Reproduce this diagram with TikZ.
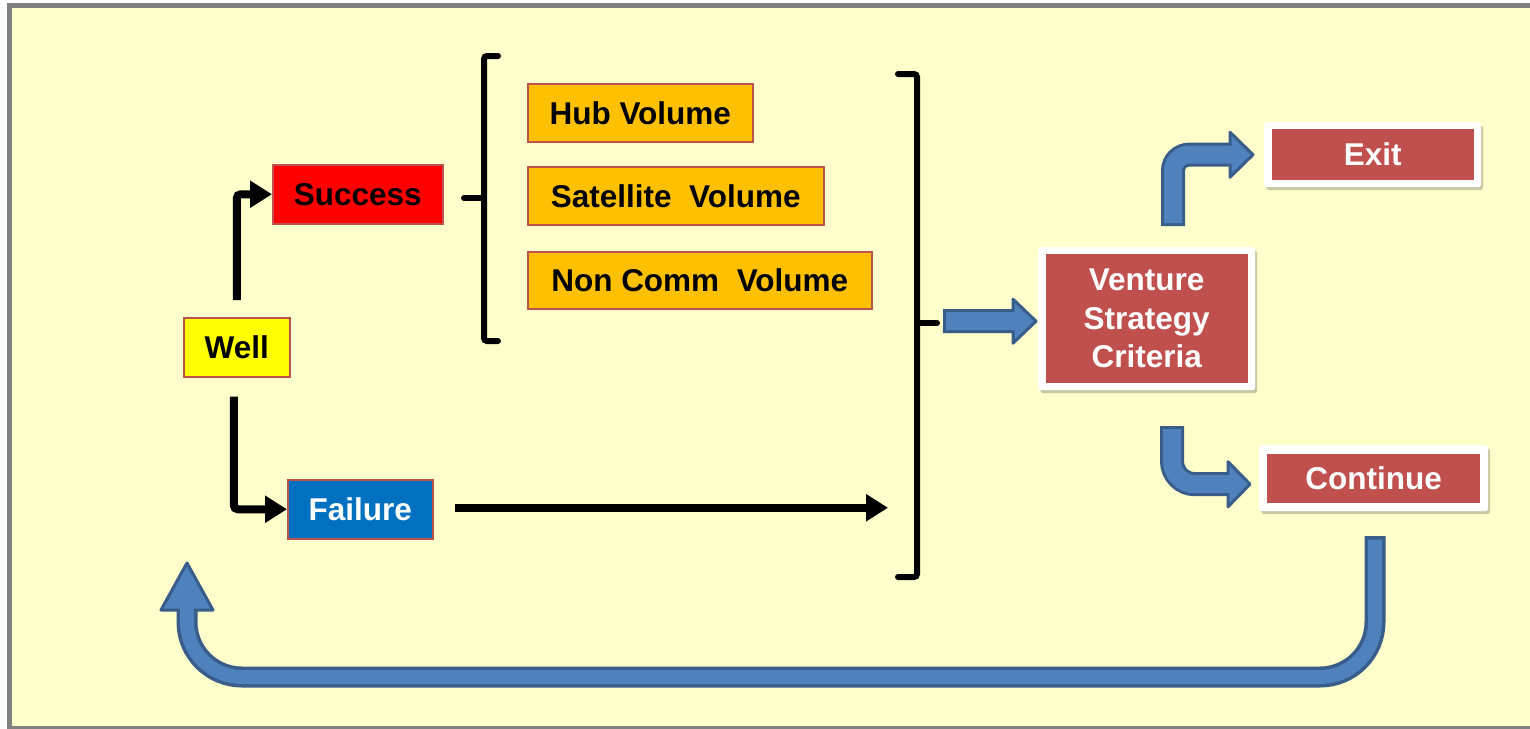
\documentclass[tikz,border=0pt]{standalone}
\usepackage{fontspec}
\setmainfont{Liberation Sans}
\usetikzlibrary{shadows,arrows.meta,calc}
\definecolor{bg}{HTML}{FFFFCC}
\definecolor{framegray}{HTML}{808080}
\definecolor{redbox}{HTML}{C0504D}
\definecolor{arrfill}{HTML}{4F81BD}
\definecolor{arrline}{HTML}{385D8A}
\definecolor{orangebox}{HTML}{FFC000}
\definecolor{bluebox}{HTML}{0070C0}
\definecolor{yellowbox}{HTML}{FFFF00}
\definecolor{redfill}{HTML}{FF0000}
\begin{document}
\begin{tikzpicture}[x=1pt,y=-1pt,
  lbl/.style={font=\fontsize{31.5}{38.5}\selectfont\bfseries},
  box/.style={lbl, draw=redbox, line width=1.5pt, inner sep=0pt, anchor=north west},
  whitebox/.style={fill=white, draw=none, rounded corners=3pt, inner sep=0pt, anchor=north west,
    drop shadow={shadow xshift=2pt, shadow yshift=-3pt, opacity=0.3, fill=black!70}},
  redinner/.style={lbl, fill=redbox, text=white, inner sep=0pt, align=center},
  conn/.style={draw=black, line width=8pt, rounded corners=4pt, -{Triangle[length=22pt,width=26pt]}},
  brk/.style={draw=black, line width=6pt, rounded corners=3pt, line cap=round},
  headshape/.style={fill=arrfill, draw=arrline, line width=3pt, line join=round}
]
\useasboundingbox (0,0) rectangle (1530,728);
\clip (0,0) rectangle (1530,728);
\fill[white] (0,0) rectangle (1530,728);
\draw[draw=framegray, line width=5pt, fill=bg] (9.5,5.5) rectangle (1545,728.5);

% left-side nodes
\node[box, fill=yellowbox, minimum width=106pt, minimum height=59pt] (well) at (183,317) {Well};
\node[box, fill=redfill, minimum width=170pt, minimum height=59pt] (success) at (272,164) {Success};
\node[box, fill=bluebox, text=white, minimum width=145pt, minimum height=59pt] (failure) at (287,479) {Failure};

\node[box, fill=orangebox, minimum width=225pt, minimum height=58pt] (hub) at (527,83) {Hub Volume};
\node[box, fill=orangebox, minimum width=296pt, minimum height=58pt] (sat) at (527,166) {Satellite\ \ Volume};
\node[box, fill=orangebox, minimum width=344pt, minimum height=57pt] (noncomm) at (527,251) {Non Comm\ \ Volume};

% right-side boxes
\node[whitebox, minimum width=217pt, minimum height=143pt] (vout) at (1038,247) {};
\node[redinner, minimum width=202pt, minimum height=129pt] (venture) at (vout.center) {Venture\\Strategy\\Criteria};
\node[whitebox, minimum width=217pt, minimum height=65pt] (eout) at (1264,122) {};
\node[redinner, minimum width=202pt, minimum height=51pt] (exit) at (eout.center) {Exit};
\node[whitebox, minimum width=229pt, minimum height=66pt] (cout) at (1259,445) {};
\node[redinner, minimum width=213pt, minimum height=49pt] (cont) at (cout.center) {Continue};

% black connectors
\draw[conn] ([yshift=17pt]well.north) |- (success.west);
\draw[conn] ([yshift=-19pt,xshift=-3pt]well.south) |- (failure.west);
\coordinate (rbx) at (888,0);
\draw[conn] ([xshift=21pt,yshift=1.5pt]failure.east) -- ([yshift=1.5pt]failure.east -| rbx);

% brackets
\draw[brk] (498,56) -- (484,56) -- (484,341) -- (498,341);
\draw[brk] (484,198) -- (464,198);
\draw[brk] (898,74) -- (917,74) -- (917,577) -- (898,577);
\draw[brk] (917,323) -- (937,323);

% straight block arrow bracket -> venture
\coordinate (sa) at (943,321);
\coordinate (sb) at ($(vout.west)+(-2,2.5)$);
\draw[arrline, line width=24pt] (sa) -- ($(sb)+(-22,0)$);
\filldraw[headshape] ($(sb)+(-23,-22)$) -- (sb) -- ($(sb)+(-23,22)$) -- cycle;
\draw[arrfill, line width=18pt] ($(sa)+(3,0)$) -- ($(sb)+(-20,0)$);

% bent arrow to Exit
\coordinate (ea) at (1173,226);
\coordinate (eb) at ([xshift=-11pt]eout.west);
\draw[arrline, line width=24pt, rounded corners=16pt] (ea) -- (ea |- eb) -- ($(eb)+(-22,0)$);
\filldraw[headshape] ($(eb)+(-23,-22.5)$) -- (eb) -- ($(eb)+(-23,22.5)$) -- cycle;
\draw[arrfill, line width=18pt, rounded corners=16pt] ($(ea)+(0,-3)$) -- (ea |- eb) -- ($(eb)+(-20,0)$);

% bent arrow to Continue
\coordinate (ca) at (1172,426);
\coordinate (cb) at ([xshift=-9pt,yshift=-6pt]cout.west);
\draw[arrline, line width=24pt, rounded corners=23pt] (ca) -- (ca |- cb) -- ($(cb)+(-21,0)$);
\filldraw[headshape] ($(cb)+(-22,-22.5)$) -- (cb) -- ($(cb)+(-22,22.5)$) -- cycle;
\draw[arrfill, line width=18pt, rounded corners=23pt] ($(ca)+(0,3)$) -- (ca |- cb) -- ($(cb)+(-19,0)$);

% big return arrow
\coordinate (la) at (1375,536);
\coordinate (lb) at (187,563);
\draw[arrline, line width=21pt, rounded corners=55pt] (la) -- (1375,677) -- (187,677) -- ($(lb)+(0,47)$);
\filldraw[headshape] ($(lb)+(-26,47)$) -- (lb) -- ($(lb)+(26,47)$) -- cycle;
\draw[arrfill, line width=14pt, rounded corners=55pt] ($(la)+(0,3.5)$) -- (1375,677) -- (187,677) -- ($(lb)+(0,45)$);
\end{tikzpicture}
\end{document}
